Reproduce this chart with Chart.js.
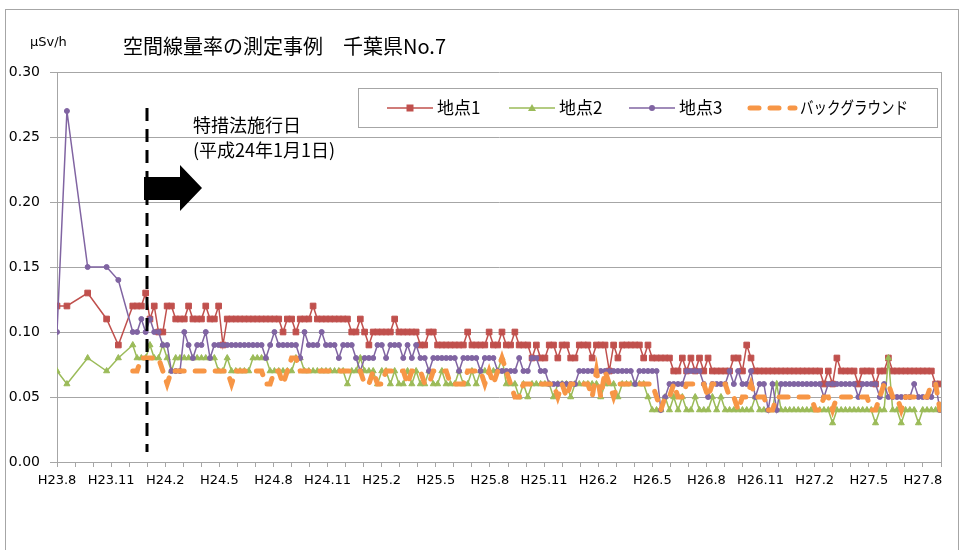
<!DOCTYPE html>
<html lang="ja">
<head>
  <meta charset="UTF-8">
  <title>空間線量率の測定事例 千葉県No.7</title>
  <style>
    html, body { margin: 0; padding: 0; background: #fff; }
  </style>
</head>
<body>
  <canvas id="doseChart" width="966" height="550"></canvas>

  <script src="https://cdn.jsdelivr.net/npm/chart.js"></script>
  <script>
    // x軸は H23.8 を 0 とした月数
    const earlyMonths = [0, 0.55, 1.7, 2.75, 3.4]   // 月1回程度の初期測定
    const weeklyStart = 4.2    // 週1回測定の開始
    const weeklyEnd = 48.94    // 最終測定
    const enactMonth = 5       // 特措法施行日 H24.1.1

    const monthLabels = ['H23.8', 'H23.11', 'H24.2', 'H24.5', 'H24.8', 'H24.11', 'H25.2', 'H25.5',
      'H25.8', 'H25.11', 'H26.2', 'H26.5', 'H26.8', 'H26.11', 'H27.2', 'H27.5', 'H27.8']

    const seriesNames = ['地点1', '地点2', '地点3', 'バックグラウンド']

    // μSv/h
    const site1Early = [0.12, 0.12, 0.13, 0.11, 0.09]
    const site2Early = [0.07, 0.06, 0.08, 0.07, 0.08]
    const site3Early = [0.10, 0.27, 0.15, 0.15, 0.14]

    const site1Weekly = [
      0.12,0.12,0.12,0.13,0.11,0.12,0.10,0.10,0.12,0.12,
      0.11,0.11,0.11,0.12,0.11,0.11,0.11,0.12,0.11,0.11,
      0.12,0.09,0.11,0.11,0.11,0.11,0.11,0.11,0.11,0.11,
      0.11,0.11,0.11,0.11,0.11,0.10,0.11,0.11,0.10,0.11,
      0.11,0.11,0.12,0.11,0.11,0.11,0.11,0.11,0.11,0.11,
      0.11,0.10,0.10,0.11,0.10,0.09,0.10,0.10,0.10,0.10,
      0.10,0.11,0.10,0.10,0.10,0.10,0.10,0.09,0.09,0.10,
      0.10,0.09,0.09,0.09,0.09,0.09,0.09,0.09,0.10,0.09,
      0.09,0.09,0.09,0.10,0.09,0.09,0.10,0.09,0.09,0.10,
      0.09,0.09,0.09,0.08,0.09,0.08,0.08,0.09,0.09,0.08,
      0.09,0.09,0.08,0.08,0.09,0.09,0.09,0.08,0.09,0.09,
      0.09,0.07,0.09,0.08,0.09,0.09,0.09,0.09,0.09,0.08,
      0.09,0.08,0.08,0.08,0.08,0.08,0.07,0.07,0.08,0.07,
      0.08,0.07,0.08,0.07,0.08,0.07,0.07,0.07,0.07,0.07,
      0.08,0.08,0.07,0.09,0.08,0.07,0.07,0.07,0.07,0.07,
      0.07,0.07,0.07,0.07,0.07,0.07,0.07,0.07,0.07,0.07,
      0.07,0.06,0.07,0.06,0.08,0.07,0.07,0.07,0.07,0.06,
      0.07,0.07,0.07,0.06,0.07,0.07,0.08,0.07,0.07,0.07,
      0.07,0.07,0.07,0.07,0.07,0.07,0.07,0.06,0.06
    ]

    const site2Weekly = [
      0.09,0.08,0.08,0.08,0.09,0.08,0.08,0.09,0.08,0.07,
      0.08,0.08,0.08,0.08,0.08,0.08,0.08,0.08,0.08,0.08,
      0.07,0.07,0.08,0.07,0.07,0.07,0.07,0.07,0.08,0.08,
      0.08,0.08,0.07,0.07,0.07,0.07,0.07,0.07,0.08,0.08,
      0.07,0.07,0.07,0.07,0.07,0.07,0.07,0.07,0.07,0.07,
      0.06,0.07,0.07,0.08,0.07,0.07,0.07,0.06,0.07,0.07,
      0.06,0.07,0.06,0.06,0.07,0.06,0.07,0.06,0.06,0.07,
      0.06,0.06,0.07,0.06,0.06,0.06,0.07,0.06,0.06,0.07,
      0.06,0.07,0.07,0.07,0.07,0.07,0.08,0.06,0.06,0.06,
      0.05,0.06,0.05,0.06,0.06,0.06,0.06,0.06,0.05,0.06,
      0.06,0.06,0.05,0.06,0.06,0.06,0.06,0.06,0.06,0.05,
      0.06,0.06,0.06,0.05,0.06,0.06,0.06,0.06,0.06,0.06,
      0.05,0.04,0.04,0.04,0.05,0.04,0.05,0.04,0.05,0.04,
      0.04,0.05,0.04,0.04,0.04,0.05,0.04,0.05,0.04,0.04,
      0.04,0.04,0.04,0.04,0.04,0.05,0.04,0.04,0.04,0.04,
      0.06,0.04,0.04,0.04,0.04,0.04,0.04,0.04,0.04,0.04,
      0.04,0.04,0.04,0.03,0.04,0.04,0.04,0.04,0.04,0.04,
      0.04,0.04,0.04,0.03,0.04,0.04,0.08,0.04,0.04,0.03,
      0.04,0.04,0.04,0.03,0.04,0.04,0.04,0.04,0.04
    ]

    const site3Weekly = [
      0.10,0.10,0.11,0.10,0.11,0.10,0.10,0.09,0.09,0.07,
      0.07,0.07,0.10,0.09,0.08,0.09,0.09,0.10,0.08,0.09,
      0.09,0.09,0.09,0.09,0.09,0.09,0.09,0.09,0.09,0.09,
      0.09,0.08,0.09,0.10,0.09,0.09,0.09,0.09,0.09,0.08,
      0.10,0.09,0.09,0.09,0.10,0.09,0.09,0.09,0.08,0.09,
      0.09,0.09,0.08,0.07,0.08,0.08,0.08,0.09,0.09,0.08,
      0.09,0.09,0.09,0.08,0.09,0.08,0.09,0.08,0.08,0.07,
      0.08,0.08,0.08,0.08,0.08,0.08,0.07,0.08,0.08,0.08,
      0.08,0.07,0.08,0.08,0.08,0.07,0.07,0.07,0.07,0.07,
      0.08,0.07,0.07,0.08,0.08,0.07,0.07,0.06,0.06,0.06,
      0.06,0.06,0.06,0.06,0.07,0.07,0.07,0.07,0.07,0.07,
      0.07,0.07,0.07,0.07,0.07,0.07,0.07,0.06,0.07,0.07,
      0.07,0.07,0.07,0.04,0.05,0.06,0.06,0.06,0.06,0.07,
      0.07,0.07,0.07,0.06,0.05,0.06,0.06,0.06,0.06,0.07,
      0.06,0.07,0.06,0.06,0.07,0.05,0.06,0.06,0.04,0.06,
      0.04,0.06,0.06,0.06,0.06,0.06,0.06,0.06,0.06,0.06,
      0.06,0.05,0.06,0.06,0.06,0.06,0.06,0.06,0.06,0.05,
      0.06,0.06,0.06,0.06,0.05,0.06,0.05,0.05,0.05,0.05,
      0.05,0.05,0.06,0.05,0.05,0.05,0.05,0.06,0.04
    ]

    const backgroundWeekly = [
      0.07,0.07,0.08,0.08,0.08,0.08,0.08,0.07,0.06,0.07,
      0.07,0.07,0.07,0.07,0.07,0.07,0.07,0.07,0.07,0.07,
      0.07,0.07,0.07,0.06,0.07,0.07,0.07,0.07,0.07,0.07,
      0.07,0.06,0.06,0.07,0.07,0.06,0.07,0.08,0.08,0.07,
      0.07,0.07,0.07,0.07,0.07,0.07,0.07,0.07,0.07,0.07,
      0.07,0.07,0.07,0.07,0.06,0.06,0.07,0.06,0.06,0.07,
      0.07,0.07,0.07,0.07,0.06,0.07,0.07,0.07,0.06,0.06,
      0.07,0.07,0.07,0.07,0.06,0.06,0.06,0.06,0.07,0.07,
      0.07,0.07,0.06,0.07,0.06,0.07,0.08,0.07,0.06,0.05,
      0.05,0.06,0.06,0.06,0.06,0.06,0.06,0.06,0.06,0.05,
      0.06,0.05,0.06,0.06,0.06,0.06,0.06,0.05,0.07,0.05,
      0.07,0.06,0.05,0.06,0.06,0.06,0.06,0.06,0.06,0.06,
      0.06,0.06,0.05,0.04,0.05,0.05,0.06,0.05,0.05,0.06,
      0.06,0.06,0.06,0.06,0.05,0.06,0.06,0.06,0.06,0.05,
      0.05,0.04,0.05,0.05,0.06,0.05,0.05,0.05,0.04,0.04,
      0.05,0.05,0.05,0.05,0.05,0.05,0.05,0.05,0.05,0.04,
      0.04,0.05,0.05,0.04,0.05,0.05,0.05,0.05,0.05,0.05,
      0.05,0.05,0.04,0.04,0.05,0.06,0.06,0.05,0.05,0.04,
      0.05,0.05,0.05,0.05,0.05,0.05,0.06,0.06,0.04
    ]

    const colors = ['#C0504D', '#9BBB59', '#8064A2', '#F79646']
    const jpFont = "'Noto Sans CJK JP', 'Noto Sans', sans-serif"

    function makePoints(early, weekly) {
      const step = (weeklyEnd - weeklyStart) / (weekly.length - 1)
      const pts = early.map((v, i) => ({ x: earlyMonths[i], y: v }))
      weekly.forEach((v, i) => pts.push({ x: weeklyStart + i * step, y: v }))
      return pts
    }

    // title, legend, annotation and frame
    const decor = {
      id: 'decor',
      beforeDraw(chart) {
        const ctx = chart.ctx
        ctx.save()
        ctx.fillStyle = '#fff'
        ctx.fillRect(0, 0, chart.width, chart.height)
        ctx.strokeStyle = '#a6a6a6'
        ctx.lineWidth = 1
        ctx.strokeRect(5.5, 9.5, 953, 600)
        ctx.restore()
      },
      afterDatasetsDraw(chart) {
        const ctx = chart.ctx
        const a = chart.chartArea
        ctx.save()
        ctx.strokeStyle = '#a6a6a6'
        ctx.lineWidth = 1
        ctx.beginPath()
        ctx.moveTo(a.right + 0.5, a.top)
        ctx.lineTo(a.right + 0.5, a.bottom)
        ctx.stroke()

        // 特措法施行日の縦線
        const ex = Math.round(chart.scales.x.getPixelForValue(enactMonth))
        ctx.strokeStyle = '#000'
        ctx.lineWidth = 3
        ctx.setLineDash([13, 8])
        ctx.beginPath()
        ctx.moveTo(ex, 108)
        ctx.lineTo(ex, 452)
        ctx.stroke()
        ctx.setLineDash([])

        // 矢印
        ctx.fillStyle = '#000'
        ctx.beginPath()
        ctx.moveTo(ex - 3, 177)
        ctx.lineTo(ex + 33, 177)
        ctx.lineTo(ex + 33, 165)
        ctx.lineTo(ex + 55, 188)
        ctx.lineTo(ex + 33, 211)
        ctx.lineTo(ex + 33, 200)
        ctx.lineTo(ex - 3, 200)
        ctx.closePath()
        ctx.fill()

        ctx.font = '18px ' + jpFont
        ctx.textBaseline = 'middle'
        ctx.fillText('特措法施行日', 193, 125)
        ctx.fillText('(平成24年1月1日)', 193, 150)
        ctx.restore()
      },
      afterDraw(chart) {
        const ctx = chart.ctx
        ctx.save()
        ctx.fillStyle = '#000'
        ctx.textBaseline = 'middle'
        ctx.font = '20px ' + jpFont
        ctx.fillText('空間線量率の測定事例　千葉県No.7', 123, 46)
        ctx.font = "13px 'DejaVu Sans'"
        ctx.fillText('μSv/h', 30, 43)

        // legend
        ctx.fillStyle = '#fff'
        ctx.fillRect(358.5, 88.5, 579, 39)
        ctx.strokeStyle = '#a6a6a6'
        ctx.lineWidth = 1
        ctx.strokeRect(358.5, 88.5, 579, 39)

        const ly = 108
        const items = [
          { x0: 387, tx: 437 },
          { x0: 509, tx: 559 },
          { x0: 629, tx: 679 },
          { x0: 748, tx: 800 }
        ]
        items.forEach((it, i) => {
          const c = colors[i]
          const cx = it.x0 + 23
          ctx.strokeStyle = c
          ctx.fillStyle = c
          if (i < 3) {
            ctx.lineWidth = 1.5
            ctx.beginPath()
            ctx.moveTo(it.x0, ly)
            ctx.lineTo(it.x0 + 46, ly)
            ctx.stroke()
            ctx.beginPath()
            if (i === 0) {
              ctx.rect(cx - 3.5, ly - 3.5, 7, 7)
            } else if (i === 1) {
              ctx.moveTo(cx, ly - 4)
              ctx.lineTo(cx + 4, ly + 3)
              ctx.lineTo(cx - 4, ly + 3)
              ctx.closePath()
            } else {
              ctx.arc(cx, ly, 3, 0, Math.PI * 2)
            }
            ctx.fill()
          } else {
            ctx.lineWidth = 5
            ctx.lineCap = 'round'
            ctx.setLineDash([9, 11])
            ctx.beginPath()
            ctx.moveTo(it.x0 + 2, ly)
            ctx.lineTo(it.x0 + 47, ly)
            ctx.stroke()
            ctx.setLineDash([])
            ctx.lineCap = 'butt'
          }
          ctx.fillStyle = '#000'
          ctx.font = '17px ' + jpFont
          if (i === 3) {
            ctx.fillText(seriesNames[i], it.tx, ly, 108)
          } else {
            ctx.fillText(seriesNames[i], it.tx, ly)
          }
        })
        ctx.restore()
      }
    }

    Chart.defaults.font.family = "'DejaVu Sans', sans-serif"
    Chart.defaults.color = '#000'

    const ctx = document.getElementById('doseChart')

    new Chart(ctx, {
      type: 'line',
      data: {
        datasets: [
          {
            label: seriesNames[0],
            data: makePoints(site1Early, site1Weekly),
            borderColor: colors[0],
            backgroundColor: colors[0],
            borderWidth: 1.5,
            pointStyle: 'rect',
            pointRadius: 4,
            pointBorderWidth: 1,
            order: 4
          },
          {
            label: seriesNames[1],
            data: makePoints(site2Early, site2Weekly),
            borderColor: colors[1],
            backgroundColor: colors[1],
            borderWidth: 1.5,
            pointStyle: 'triangle',
            pointRadius: 3.5,
            pointBorderWidth: 1,
            order: 3
          },
          {
            label: seriesNames[2],
            data: makePoints(site3Early, site3Weekly),
            borderColor: colors[2],
            backgroundColor: colors[2],
            borderWidth: 1.5,
            pointStyle: 'circle',
            pointRadius: 2.5,
            pointBorderWidth: 1,
            order: 2
          },
          {
            label: seriesNames[3],
            data: makePoints([], backgroundWeekly),
            borderColor: colors[3],
            backgroundColor: colors[3],
            borderWidth: 5,
            borderDash: [9, 11],
            borderCapStyle: 'round',
            pointRadius: 0,
            order: 1
          }
        ]
      },
      options: {
        responsive: false,
        animation: false,
        events: [],
        layout: { padding: { left: 0, right: 25, top: 72, bottom: 0 } },
        plugins: {
          legend: { display: false },
          tooltip: { enabled: false }
        },
        scales: {
          x: {
            type: 'linear',
            min: 0,
            max: 49,
            afterFit(s) { s.height = 88 },
            grid: { drawOnChartArea: false, drawTicks: true, tickLength: 5, color: '#a6a6a6' },
            border: { color: '#a6a6a6' },
            ticks: {
              stepSize: 1,
              maxTicksLimit: 60,
              autoSkip: false,
              maxRotation: 0,
              padding: 6,
              font: { size: 13 },
              callback(v) {
                const m = Math.round(v)
                return m % 3 === 0 ? monthLabels[m / 3] || '' : ''
              }
            }
          },
          y: {
            min: 0,
            max: 0.3,
            afterFit(s) { s.width = 57 },
            grid: { color: '#a6a6a6', tickLength: 7 },
            border: { color: '#a6a6a6' },
            ticks: {
              stepSize: 0.05,
              padding: 10,
              font: { size: 14 },
              callback(v) { return v.toFixed(2) }
            }
          }
        }
      },
      plugins: [decor]
    })
  </script>
</body>
</html>
